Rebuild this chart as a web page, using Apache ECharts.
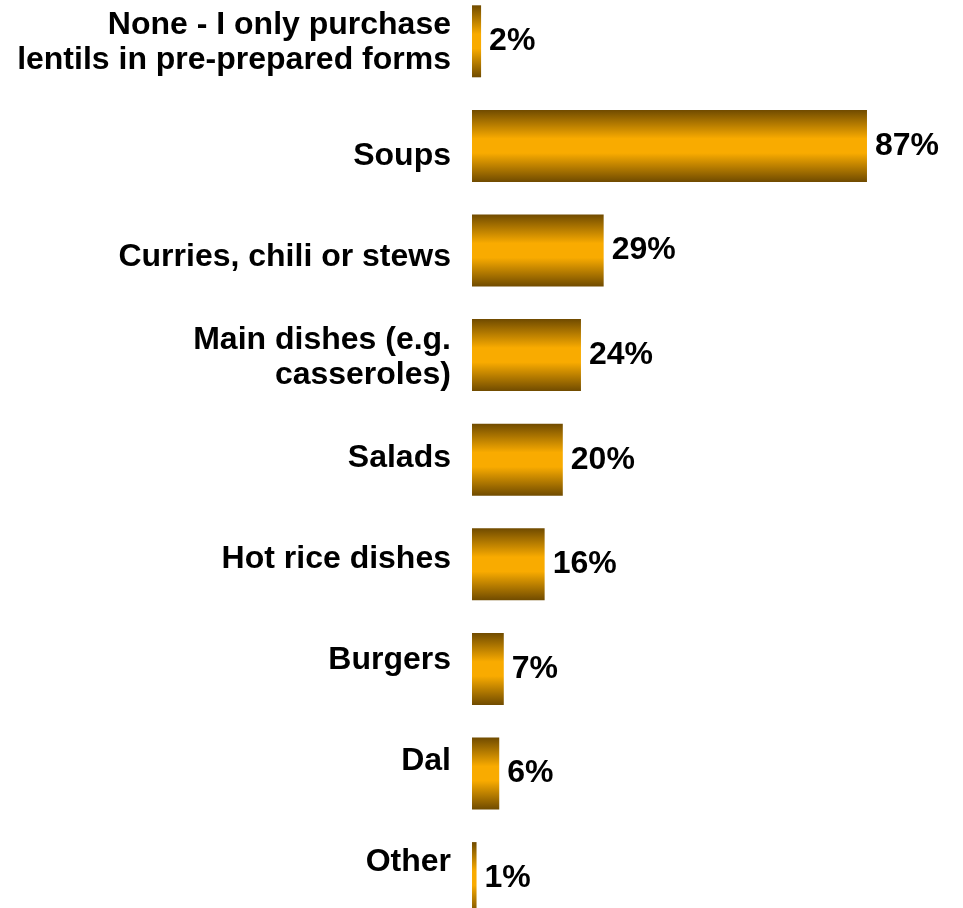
<!DOCTYPE html>
<html>
<head>
<meta charset="utf-8">
<style>
  html, body { margin: 0; padding: 0; background: #ffffff; }
  #chart { width: 963px; height: 908px; }
</style>
<script src="https://cdn.jsdelivr.net/npm/echarts@6/dist/echarts.min.js"></script>
</head>
<body>
<div id="chart"></div>
<script>
// Ways of using dried lentils (share of respondents, %)
const categories = [
  'None - I only purchase\nlentils in pre-prepared forms',
  'Soups',
  'Curries, chili or stews',
  'Main dishes (e.g.\ncasseroles)',
  'Salads',
  'Hot rice dishes',
  'Burgers',
  'Dal',
  'Other'
];
const shares = [2, 87, 29, 24, 20, 16, 7, 6, 1];

const FONT = '"Liberation Sans", Arial, sans-serif';

const barFill = {
  type: 'linear', x: 0, y: 0, x2: 0, y2: 1,
  colorStops: [
    { offset: 0, color: '#704b00' },
    { offset: 0.4, color: '#f9ab00' },
    { offset: 0.6, color: '#f9ab00' },
    { offset: 1, color: '#704b00' }
  ]
};

const chart = echarts.init(document.getElementById('chart'), null, { renderer: 'canvas' });

chart.setOption({
  animation: false,
  backgroundColor: '#ffffff',
  grid: [
    // bars (the last row runs past the bottom edge)
    { left: 472, width: 454, top: -11, height: 941.4, containLabel: false, outerBoundsMode: 'none' },
    // category text column
    { left: 472, width: 454, top: 4.6, height: 908.1, containLabel: false, outerBoundsMode: 'none' }
  ],
  xAxis: [
    { gridIndex: 0, type: 'value', min: 0, max: 100, show: false },
    { gridIndex: 1, type: 'value', min: 0, max: 100, show: false }
  ],
  yAxis: [
    {
      gridIndex: 0, type: 'category', data: categories, inverse: true,
      axisLine: { show: false }, axisTick: { show: false },
      axisLabel: { show: false }, splitLine: { show: false }
    },
    {
      gridIndex: 1, type: 'category', data: categories, inverse: true,
      axisLine: { show: false }, axisTick: { show: false }, splitLine: { show: false },
      axisLabel: {
        show: true,
        margin: 21,
        align: 'right',
        color: '#000000',
        fontFamily: FONT,
        fontWeight: 'bold',
        fontSize: 32,
        lineHeight: 35,
        formatter: function (value, index) {
          // the first, two-line entry sits a little higher in its row
          if (index === 0) {
            return value.split('\n').map(function (s) { return '{t|' + s + '}'; }).join('\n') + '\n{g| }';
          }
          return value;
        },
        rich: {
          t: { fontFamily: FONT, fontWeight: 'bold', fontSize: 32, lineHeight: 35, color: '#000000', align: 'right' },
          g: { fontSize: 1, lineHeight: 24 }
        }
      }
    }
  ],
  series: [
    {
      type: 'bar',
      xAxisIndex: 0,
      yAxisIndex: 0,
      data: shares,
      barWidth: 72,
      itemStyle: { color: barFill },
      label: {
        show: true,
        position: 'right',
        distance: 8,
        color: '#000000',
        fontFamily: FONT,
        fontWeight: 'bold',
        fontSize: 32,
        formatter: function (p) { return p.value + '%'; }
      }
    }
  ]
});
</script>
</body>
</html>
